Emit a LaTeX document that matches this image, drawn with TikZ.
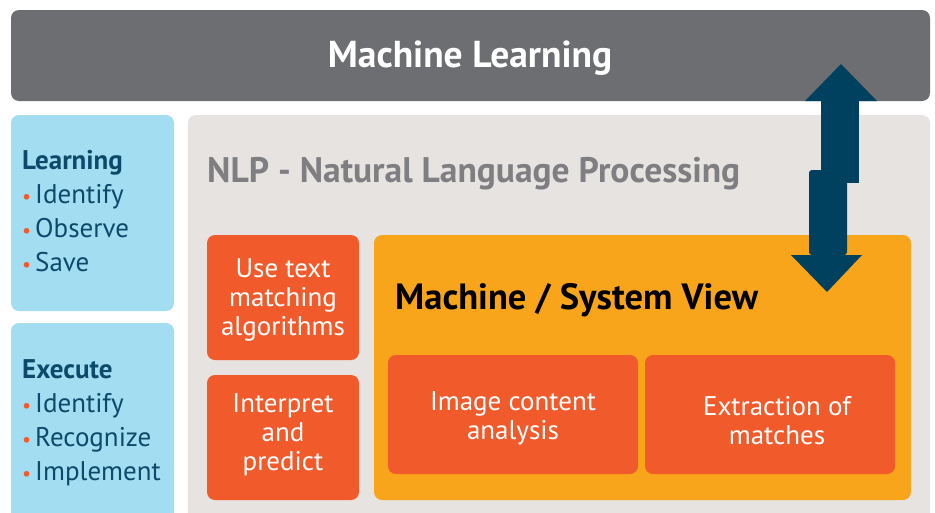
\documentclass[tikz,border=0pt]{standalone}
\usepackage{fontspec}
\setmainfont{PT Sans}
\definecolor{mlgray}{HTML}{6D6E71}
\definecolor{lblue}{HTML}{A3DDF2}
\definecolor{dblue}{HTML}{0D4A6A}
\definecolor{panel}{HTML}{E6E3E0}
\definecolor{nlpgray}{HTML}{7F7F82}
\definecolor{orng}{HTML}{F15A2B}
\definecolor{yell}{HTML}{F8A51B}
\definecolor{arrowc}{HTML}{00415F}
\newcommand{\fs}[2]{\fontsize{#1}{#2}\selectfont}
\newcommand{\bul}{{\color{orng}\fs{20}{20}\textbullet}\hspace{4pt}}
\tikzset{
  boxr/.style={rounded corners=8pt, draw=none},
  otext/.style={text=white, align=center, font=\fs{27}{29}, inner sep=0pt},
  ltext/.style={anchor=north west, align=left, text=dblue, font=\fs{27}{34}, inner sep=0pt},
}
\begin{document}
\begin{tikzpicture}[x=1pt,y=-1pt]
\useasboundingbox (0,0) rectangle (935,512);
% top bar
\fill[mlgray, boxr] (11,10) rectangle (930,101);
\node[text=white, font=\bfseries\fs{37.5}{40}, inner sep=0pt] (ml) at (470,58) {Machine Learning};
% left boxes
\fill[lblue, boxr] (11,115) rectangle (174,311);
\fill[lblue, boxr] (11,323) rectangle (174,530);
\node[ltext] (learn) at (22,150) {%
  {\bfseries Learning}\\\bul Identify\\\bul Observe\\\bul Save};
\node[ltext] (exec) at (22,359) {%
  {\bfseries Execute}\\\bul Identify\\\bul Recognize\\\bul Implement};
% panel
\fill[panel, boxr] (188,115) rectangle (930,530);
\node[anchor=west, text=nlpgray, font=\bfseries\fs{35.5}{38}, inner sep=0pt] (nlp) at (207,174) {NLP - Natural Language Processing};
% orange boxes
\fill[orng, boxr] (207,235) rectangle (359,360);
\node[otext] (usetext) at (283,300) {Use text\\matching\\algorithms};
\fill[orng, boxr] (207,375) rectangle (359,500);
\node[otext] (interp) at (283,435) {Interpret\\and\\predict};
% yellow box
\fill[yell, boxr] (374,235) rectangle (911,500);
\node[anchor=west, text=black, font=\bfseries\fs{36.5}{38}, inner sep=0pt] (msv) at (395,300) {Machine / System View};
\fill[orng, boxr] (388,355) rectangle (638,474);
\node[otext] (img) at (513,418) {Image content\\analysis};
\fill[orng, boxr] (645,355) rectangle (895,474);
\node[otext] (extr) at (777,421) {Extraction of\\matches};
% double arrow
\fill[arrowc] (805,101) -- (841,64) -- (877,101) -- cycle;
\fill[arrowc] (821,100) rectangle (859,183);
\fill[arrowc, rounded corners=3pt] (809,255) -- (809,170) -- (823,170) -- (823,172) -- (847,172) -- (847,255) -- cycle;
\fill[arrowc] (791,255) -- (862,255) -- (827,292) -- cycle;
\end{tikzpicture}
\end{document}
